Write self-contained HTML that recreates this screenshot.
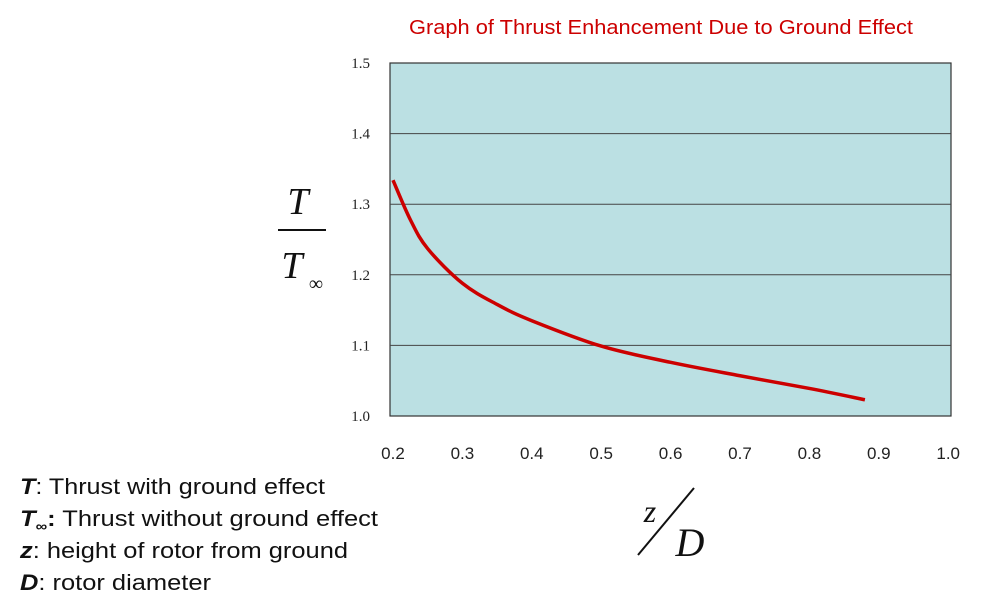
<!DOCTYPE html>
<html><head><meta charset="utf-8"><style>
body{margin:0;background:#fff;}
svg{display:block;}
.tick{font-family:"Liberation Serif",serif;font-size:15px;fill:#222;}
.xt{font-family:"Liberation Sans",sans-serif;font-size:17px;fill:#222;}
.leg{font-family:"Liberation Sans",sans-serif;font-size:22px;fill:#111;}
.math{font-family:"Liberation Serif",serif;font-style:italic;fill:#111;}
</style></head><body>
<svg width="993" height="599" viewBox="0 0 993 599">
<text x="409" y="34" textLength="504" lengthAdjust="spacingAndGlyphs" font-family="Liberation Sans, sans-serif" font-size="20" fill="#cc0000">Graph of Thrust Enhancement Due to Ground Effect</text>
<rect x="390" y="63" width="561" height="353" fill="#bbe0e3" stroke="#333" stroke-width="1.2"/>
<g id="grid"></g><g id="yt"></g><g id="xt"></g>
<path id="curve" fill="none" stroke="#cc0000" stroke-width="3.5" stroke-linejoin="round"/>
<g>
<text class="math" x="298" y="214" font-size="38" text-anchor="middle">T</text>
<line x1="278" y1="230" x2="326" y2="230" stroke="#111" stroke-width="2"/>
<text class="math" x="292" y="278" font-size="38" text-anchor="middle">T</text>
<text x="316" y="290" font-family="Liberation Serif,serif" font-size="20" fill="#111" text-anchor="middle">∞</text>
</g>
<g>
<text class="math" x="650" y="522" font-size="32" text-anchor="middle">z</text>
<line x1="638" y1="555" x2="694" y2="488" stroke="#111" stroke-width="2"/>
<text class="math" x="690" y="556" font-size="40" text-anchor="middle">D</text>
</g>
<g>
<text class="leg" x="20" y="494" textLength="305" lengthAdjust="spacingAndGlyphs"><tspan font-weight="bold" font-style="italic">T</tspan>: Thrust with ground effect</text>
<text class="leg" x="20" y="526" textLength="358" lengthAdjust="spacingAndGlyphs"><tspan font-weight="bold" font-style="italic">T</tspan><tspan font-weight="bold" font-size="14" dy="5">∞</tspan><tspan font-weight="bold" dy="-5">:</tspan> Thrust without ground effect</text>
<text class="leg" x="20" y="558" textLength="328" lengthAdjust="spacingAndGlyphs"><tspan font-weight="bold" font-style="italic">z</tspan>: height of rotor from ground</text>
<text class="leg" x="20" y="590" textLength="191" lengthAdjust="spacingAndGlyphs"><tspan font-weight="bold" font-style="italic">D</tspan>: rotor diameter</text>
</g>
</svg>
<script>
const zVals=[0.2,0.225,0.25,0.3,0.35,0.4,0.5,0.6,0.7,0.8,0.88];
const ratioVals=[1.334,1.278,1.237,1.188,1.158,1.135,1.099,1.076,1.057,1.039,1.023];
const yTicks=[1.0,1.1,1.2,1.3,1.4,1.5];
const yTickLabels=["1.0","1.1","1.2","1.3","1.4","1.5"];
const xTicks=[0.2,0.3,0.4,0.5,0.6,0.7,0.8,0.9,1.0];
const xTickLabels=["0.2","0.3","0.4","0.5","0.6","0.7","0.8","0.9","1.0"];
const NS="http://www.w3.org/2000/svg";
function xs(z){return 393+(z-0.2)*694;}
function ys(v){return 416-(v-1.0)*706;}
const grid=document.getElementById('grid'),yt=document.getElementById('yt'),xt=document.getElementById('xt');
yTicks.forEach((v,i)=>{
 if(v>1.0&&v<1.5){const l=document.createElementNS(NS,'line');
 
 
 l.setAttribute('x1',390);l.setAttribute('x2',951);l.setAttribute('y1',ys(v));l.setAttribute('y2',ys(v));
 l.setAttribute('stroke','#444');l.setAttribute('stroke-width','1');grid.appendChild(l);}
 const t=document.createElementNS(NS,'text');
 
 
 t.setAttribute('class','tick');t.setAttribute('x',370);t.setAttribute('y',ys(v)+5);t.setAttribute('text-anchor','end');
 t.textContent=yTickLabels[i];yt.appendChild(t);
});
xTicks.forEach((v,i)=>{
 const t=document.createElementNS(NS,'text');
 
 
 t.setAttribute('class','xt');t.setAttribute('x',xs(v));t.setAttribute('y',459);t.setAttribute('text-anchor','middle');
 t.textContent=xTickLabels[i];xt.appendChild(t);
});
const P=zVals.map((z,i)=>[xs(z),ys(ratioVals[i])]);
let d='M'+P[0][0]+','+P[0][1];
for(let i=0;i<P.length-1;i++){
 const p0=P[Math.max(0,i-1)],p1=P[i],p2=P[i+1],p3=P[Math.min(P.length-1,i+2)];
 d+=' C'+(p1[0]+(p2[0]-p0[0])/6)+','+(p1[1]+(p2[1]-p0[1])/6)+' '+(p2[0]-(p3[0]-p1[0])/6)+','+(p2[1]-(p3[1]-p1[1])/6)+' '+p2[0]+','+p2[1];
}
document.getElementById('curve').setAttribute('d',d);
</script>
</body></html>
